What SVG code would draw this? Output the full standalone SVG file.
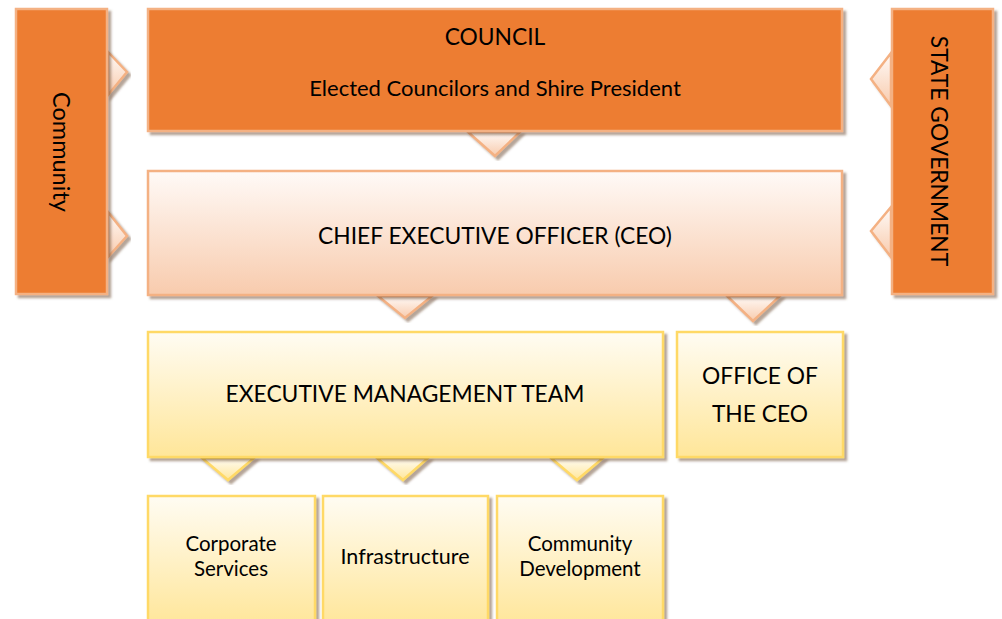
<svg xmlns="http://www.w3.org/2000/svg" width="1002" height="619" viewBox="0 0 1002 619">
<defs>
<filter id="sh" x="-10%" y="-10%" width="130%" height="130%">
<feDropShadow dx="3" dy="3" stdDeviation="1" flood-color="#6b4a2e" flood-opacity="0.5"/>
</filter>
<linearGradient id="gCeo" x1="0" y1="0" x2="0" y2="1">
<stop offset="0" stop-color="#fffaf7"/><stop offset="1" stop-color="#f8cbad"/>
</linearGradient>
<linearGradient id="gY" x1="0" y1="0" x2="0" y2="1">
<stop offset="0" stop-color="#fffcf3"/><stop offset="1" stop-color="#ffe699"/>
</linearGradient>
<linearGradient id="gTriO" x1="0" y1="0" x2="0" y2="1">
<stop offset="0" stop-color="#fffaf7"/><stop offset="1" stop-color="#f8cbad"/>
</linearGradient>
<linearGradient id="gTriY" x1="0" y1="0" x2="0" y2="1">
<stop offset="0" stop-color="#fffcf3"/><stop offset="1" stop-color="#ffe699"/>
</linearGradient>
</defs>
<style>
.org{fill:#ed7d31;stroke:#f4b183;stroke-width:2.5;filter:url(#sh)}
.ceo{fill:url(#gCeo);stroke:#f4b183;stroke-width:2.5;filter:url(#sh)}
.yel{fill:url(#gY);stroke:#ffd966;stroke-width:2.5;filter:url(#sh)}
.to{fill:url(#gTriO);stroke:#f4b183;stroke-width:2.5;stroke-linejoin:miter;filter:url(#sh)}
.ty{fill:url(#gTriY);stroke:#ffd966;stroke-width:2.5;filter:url(#sh)}
text{font-family:Lato,"Liberation Sans",sans-serif;fill:#000;text-anchor:middle}
.t20{font-size:22.8px}
.t18{font-size:21.5px}
.t2l{font-size:20.5px}
.t21{font-size:22px}
.tc{font-size:23.5px}
</style>
<g id="connectors">
<polygon class="to" points="108,52 127,72 108,95"/>
<polygon class="to" points="108,212 127,236 108,257"/>
<polygon class="to" points="891,53 871,79 891,106"/>
<polygon class="to" points="891,207 871,231 891,257"/>
<polygon class="to" points="468,132 520,132 495,156"/>
<polygon class="to" points="378,296 432,296 405,318"/>
<polygon class="to" points="727,296 780,296 753,321"/>
<polygon class="ty" points="202,458 254,458 228,480"/>
<polygon class="ty" points="377,458 428,458 403,480"/>
<polygon class="ty" points="551,458 603,458 577,480"/>
</g>
<g id="community">
<rect class="org" x="16" y="9" width="91" height="285"/>
<text class="tc" transform="translate(53,152) rotate(90)">Community</text>
</g>
<g id="state">
<rect class="org" x="892" y="9" width="101" height="285"/>
<text class="t20" transform="translate(931,151) rotate(90)">STATE GOVERNMENT</text>
</g>
<g id="council">
<rect class="org" x="148" y="9" width="694" height="122"/>
<text class="t20" x="495" y="45">COUNCIL</text>
<text class="t21" x="495" y="96">Elected Councilors and Shire President</text>
</g>
<g id="ceo">
<rect class="ceo" x="148" y="171" width="694" height="124"/>
<text class="t20" x="495" y="244">CHIEF EXECUTIVE OFFICER (CEO)</text>
</g>
<g id="emt">
<rect class="yel" x="148" y="332" width="515" height="125"/>
<text class="t20" x="405" y="402">EXECUTIVE MANAGEMENT TEAM</text>
</g>
<g id="office">
<rect class="yel" x="677" y="332" width="166" height="125"/>
<text class="t20" x="760" y="384">OFFICE OF</text>
<text class="t20" x="760" y="422">THE CEO</text>
</g>
<g id="corporate">
<rect class="yel" x="148" y="496" width="167" height="130"/>
<text class="t2l" x="231" y="551">Corporate</text>
<text class="t2l" x="231" y="576">Services</text>
</g>
<g id="infrastructure">
<rect class="yel" x="323" y="496" width="165" height="130"/>
<text class="t18" x="405" y="564">Infrastructure</text>
</g>
<g id="commdev">
<rect class="yel" x="497" y="496" width="166" height="130"/>
<text class="t2l" x="580" y="551">Community</text>
<text class="t2l" x="580" y="576">Development</text>
</g>
</svg>
